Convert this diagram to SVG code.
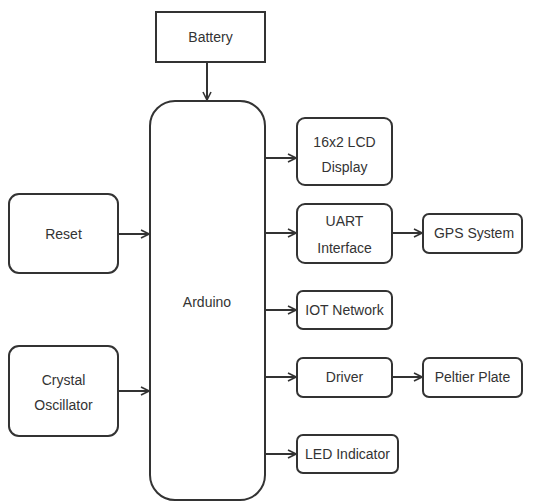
<svg xmlns="http://www.w3.org/2000/svg" width="536" height="504" viewBox="0 0 536 504">
<style>
.b{fill:#fff;stroke:#333;stroke-width:2}
.t{font-family:"Liberation Sans",Arial,sans-serif;font-size:14px;fill:#333;text-anchor:middle}
.c{stroke:#333;stroke-width:2;fill:none;marker-end:url(#ah)}
</style>
<defs>
<marker id="ah" viewBox="0 0 10 10" refX="9" refY="5" markerWidth="5" markerHeight="5" markerUnits="strokeWidth" orient="auto">
<polyline points="1,1 9,5 1,9" fill="none" stroke="#333" stroke-width="1.6"/>
</marker>
</defs>
<rect width="536" height="504" fill="#fff"/>
<g id="connectors">
<line class="c" x1="207" y1="62" x2="207" y2="100"/>
<line class="c" x1="265" y1="158" x2="296" y2="158"/>
<line class="c" x1="118" y1="234" x2="149" y2="234"/>
<line class="c" x1="265" y1="233" x2="296" y2="233"/>
<line class="c" x1="392" y1="233" x2="422" y2="233"/>
<line class="c" x1="265" y1="310" x2="296" y2="310"/>
<line class="c" x1="118" y1="391" x2="149" y2="391"/>
<line class="c" x1="265" y1="377" x2="296" y2="377"/>
<line class="c" x1="392" y1="377" x2="422" y2="377"/>
<line class="c" x1="265" y1="454" x2="296" y2="454"/>
</g>
<g id="battery"><rect class="b" x="156" y="12" width="109" height="50"/><text class="t" x="210.5" y="42">Battery</text></g>
<g id="arduino"><rect class="b" x="150" y="101" width="115" height="399" rx="25"/><text class="t" x="207" y="307">Arduino</text></g>
<g id="lcd"><rect class="b" x="297" y="118" width="95" height="67" rx="8"/><text class="t" x="344.5" y="147">16x2 LCD</text><text class="t" x="344.5" y="172">Display</text></g>
<g id="reset"><rect class="b" x="9" y="194" width="109" height="79" rx="10"/><text class="t" x="63.5" y="239">Reset</text></g>
<g id="uart"><rect class="b" x="297" y="204" width="95" height="59" rx="8"/><text class="t" x="344.5" y="226">UART</text><text class="t" x="344.5" y="253">Interface</text></g>
<g id="gps"><rect class="b" x="423" y="214" width="99" height="39" rx="6"/><text class="t" x="474" y="238">GPS System</text></g>
<g id="iot"><rect class="b" x="297" y="291" width="95" height="38" rx="6"/><text class="t" x="344.5" y="315">IOT Network</text></g>
<g id="crystal"><rect class="b" x="9" y="346" width="109" height="90" rx="10"/><text class="t" x="63.5" y="385">Crystal</text><text class="t" x="63.5" y="410">Oscillator</text></g>
<g id="driver"><rect class="b" x="297" y="358" width="95" height="39" rx="6"/><text class="t" x="344.5" y="382">Driver</text></g>
<g id="peltier"><rect class="b" x="423" y="358" width="99" height="39" rx="6"/><text class="t" x="472.5" y="382">Peltier Plate</text></g>
<g id="led"><rect class="b" x="297" y="435" width="101" height="38" rx="6"/><text class="t" x="347.5" y="459">LED Indicator</text></g>
</svg>
